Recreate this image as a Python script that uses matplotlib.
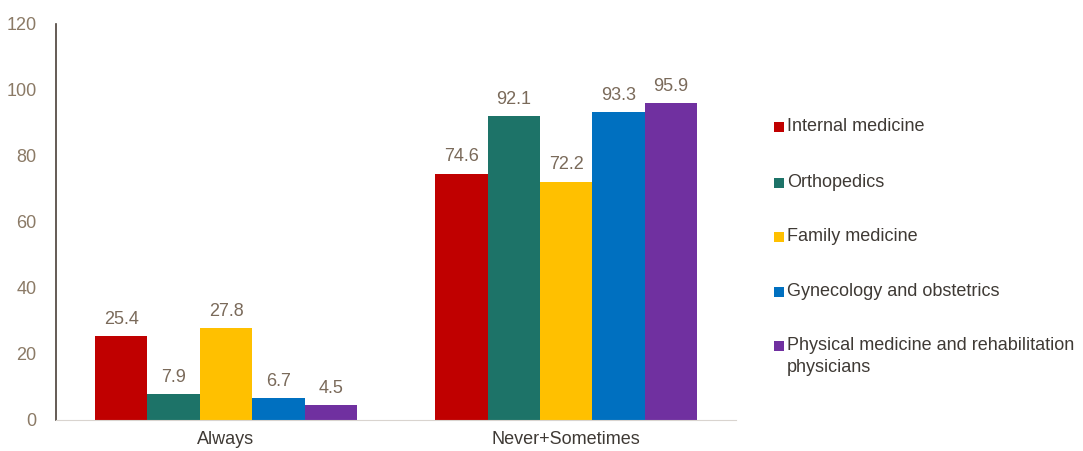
import numpy as np
import matplotlib.pyplot as plt
from matplotlib.patches import Rectangle

plt.rcParams['font.family'] = ['Liberation Sans', 'DejaVu Sans']

categories = ['Always', 'Never+Sometimes']
specialties = ['Internal medicine', 'Orthopedics', 'Family medicine',
               'Gynecology and obstetrics',
               'Physical medicine and rehabilitation\nphysicians']
values = [
    [25.4, 74.6],
    [7.9, 92.1],
    [27.8, 72.2],
    [6.7, 93.3],
    [4.5, 95.9],
]
colors = ['#C00000', '#1D7368', '#FFC000', '#0070C0', '#7030A0']

tick_color = '#8B7A66'
label_color = '#7A6A5A'
text_color = '#3F3A35'
fs = 13

W, H = 1083, 451
fig = plt.figure(figsize=(W / 100, H / 100), dpi=100)
ax = fig.add_axes([0.0517, 0.069, 0.628, 0.878])

x = np.arange(len(categories))
width = 0.154
for i, (name, vals, col) in enumerate(zip(specialties, values, colors)):
    offset = (i - 2) * width
    bars = ax.bar(x + offset, vals, width, color=col, label=name)
    for b, v in zip(bars, vals):
        ax.text(b.get_x() + b.get_width() / 2, v + 2.5, f'{v:.1f}',
                ha='center', va='bottom', fontsize=fs, color=label_color)

ax.set_xlim(-0.5, 1.5)
ax.set_ylim(0, 120)
ax.set_yticks(np.arange(0, 121, 20))
ax.set_xticks(x)
ax.set_xticklabels(categories, fontsize=fs, color=text_color)
ax.tick_params(axis='y', length=0, labelsize=fs, labelcolor=tick_color, pad=14)
ax.tick_params(axis='x', length=0, pad=8)

for side in ['top', 'right']:
    ax.spines[side].set_visible(False)
ax.spines['left'].set_color('#4A4038')
ax.spines['left'].set_linewidth(1.2)
ax.spines['bottom'].set_color('#D9D4CF')

# legend: square swatch beside the first line of each label
legend_y = [127, 183, 237, 292, 346]
for name, col, py in zip(specialties, colors, legend_y):
    fy = 1 - py / H
    fig.add_artist(Rectangle((774 / W, fy - 5 / H), 10 / W, 10 / H,
                             transform=fig.transFigure, color=col, lw=0))
    fig.text(787 / W, fy + 9 / H, name, fontsize=fs, color=text_color,
             ha='left', va='top', linespacing=1.35)

fig.savefig('out.png', dpi=100)
